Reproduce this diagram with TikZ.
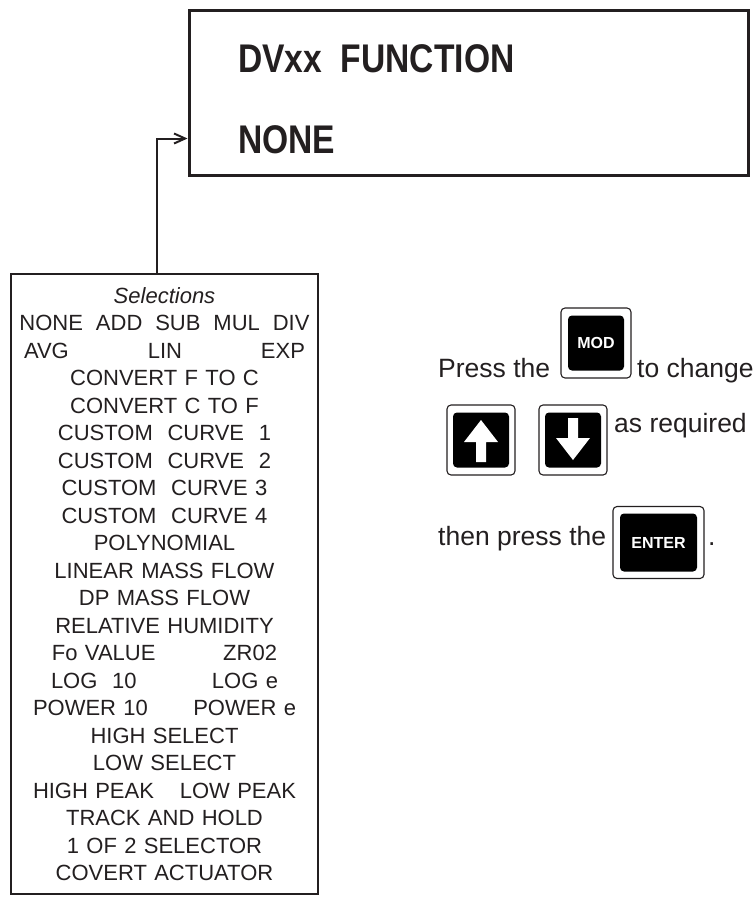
\documentclass[tikz,border=0pt]{standalone}
\usepackage{fontspec}
\usepackage{xcolor}
\usepackage{tikz}
\usetikzlibrary{arrows.meta,positioning}
\setmainfont{Liberation Sans}
\newfontfamily\lcdfont[FakeStretch=0.84]{Liberation Sans Bold}
\definecolor{Ink}{HTML}{231F20}

\begin{document}
\begin{tikzpicture}[
  x=1pt,y=-1pt,
  every node/.style={text=Ink},
  display/.style={draw=Ink,line width=3pt,minimum width=559pt,minimum height=165pt,inner sep=0pt},
  lcd/.style={font=\fontsize{40}{48}\lcdfont,inner sep=0pt,anchor=base west},
  listbox/.style={draw=Ink,line width=2.4pt,minimum width=307pt,minimum height=620pt,
    text width=300pt,align=center,inner sep=0pt,font=\fontsize{22}{27.5}\selectfont},
  say/.style={font=\fontsize{26.5}{32}\selectfont,inner sep=0pt,anchor=base west},
  keycap/.style={draw=Ink,line width=1.1pt,rounded corners=4pt,minimum width=70pt,
    minimum height=70pt,inner sep=0pt},
  keyface/.style={fill=black,rounded corners=4pt,minimum width=56pt,minimum height=55pt,
    inner sep=0pt,text=white,font=\fontsize{16}{16}\selectfont\bfseries},
  feed/.style={-{Straight Barb[length=11pt,width=10pt]},draw=Ink,line width=2pt}
]
  \useasboundingbox (0,0) rectangle (755,898);

  % display window
  \node[display] (dvbox) at (468.5,92.5) {};
  \node[lcd] (title) at (238,72) {DVxx\ \ FUNCTION};
  \node[lcd] (value) at (238,153) {NONE};

  % list of selections
  \node[listbox] (selbox) at (164.5,584) {%
    \textit{Selections}\\
    \makebox[290pt]{NONE\hfill ADD\hfill SUB\hfill MUL\hfill DIV}\\
    \makebox[281pt]{AVG\hfill LIN\hfill EXP}\\
    CONVERT F TO C\\
    CONVERT C TO F\\
    CUSTOM\ \ CURVE\ \ 1\\
    CUSTOM\ \ CURVE\ \ 2\\
    CUSTOM\ \ CURVE 3\\
    CUSTOM\ \ CURVE 4\\
    POLYNOMIAL\\
    LINEAR MASS FLOW\\
    DP MASS FLOW\\
    RELATIVE HUMIDITY\\
    \makebox[225pt]{Fo VALUE\hfill ZR02}\\
    \makebox[227pt]{LOG\ \ 10\hfill LOG e}\\
    \makebox[263pt]{POWER 10\hfill POWER e}\\
    HIGH SELECT\\
    LOW SELECT\\
    \makebox[263pt]{HIGH PEAK\hfill LOW PEAK}\\
    TRACK AND HOLD\\
    1 OF 2 SELECTOR\\
    COVERT ACTUATOR};

  \draw[feed] ([xshift=-7.5pt]selbox.north) |- ([yshift=38pt]dvbox.south west);

  % key instructions
  \node[keycap] (modkey) at (596,343) {};
  \node[keyface] (modface) at (modkey.center) {MOD};
  \node[say] (presstxt) at (438,377) {Press the};
  \node[say] (changetxt) at (637,377) {to change};

  \node[keycap,minimum width=68pt] (upkey) at (481,440) {};
  \node[keyface] (upface) at (upkey.center) {};
  \node[keycap,minimum width=68pt] (downkey) at (573,440) {};
  \node[keyface] (downface) at (downkey.center) {};
  \foreach \k/\s in {upface/1,downface/-1} {
    \begin{scope}[shift={(\k.center)},yscale=\s]
      \fill[white] (0,-20) -- (17,2) -- (5,2) -- (5,22) -- (-5,22) -- (-5,2) -- (-17,2) -- cycle;
    \end{scope}
  }
  \node[say] (reqtxt) at (614,432) {as required};

  \node[keycap,minimum width=91pt,minimum height=72pt] (enterkey) at (658.5,542.5) {};
  \node[keyface,minimum width=77pt,minimum height=58pt] (enterface) at (enterkey.center) {ENTER};
  \node[say] (thentxt) at (438,545) {then press the};
  \node[say] (dottxt) at (708,545) {.};
\end{tikzpicture}
\end{document}
